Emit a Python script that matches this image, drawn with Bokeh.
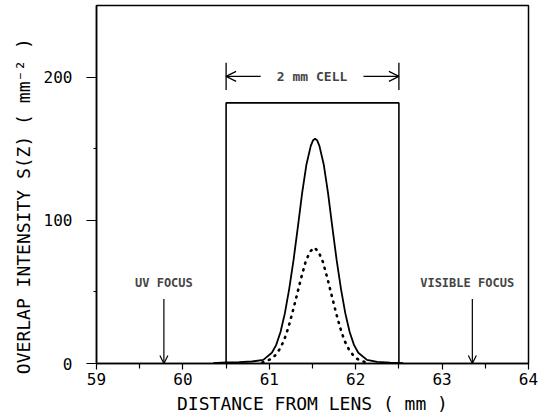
from bokeh.plotting import figure
from bokeh.models import Range1d, FixedTicker, Label, Arrow, OpenHead
from bokeh.embed import file_html
from bokeh.resources import INLINE

# ---- data ----
solid_x = [60.35, 60.50, 60.65, 60.80, 60.93, 61.03, 61.08, 61.13, 61.18, 61.23, 61.28, 61.33,
           61.38, 61.43, 61.48, 61.505, 61.53, 61.555, 61.58, 61.63, 61.68, 61.73, 61.78, 61.83,
           61.88, 61.93, 61.98, 62.03, 62.13, 62.25, 62.40, 62.55]
solid_y = [0.3, 0.7, 1.0, 1.4, 2.5, 7.5, 13, 22, 35, 52, 72, 95,
           119, 139, 152, 155.7, 157, 155.7, 152, 139, 119, 95, 72, 52,
           35, 22, 13, 7.5, 2.5, 1.2, 0.6, 0.2]

dotted_x = [60.92, 61.02, 61.07, 61.12, 61.17, 61.22, 61.27, 61.32, 61.37, 61.42, 61.47, 61.52,
            61.57, 61.62, 61.67, 61.72, 61.77, 61.82, 61.87, 61.92, 61.97, 62.02, 62.12]
dotted_y = [0.7, 3.1, 5.8, 10, 16, 25, 36, 48, 60, 71, 78, 81,
            78, 71, 60, 48, 36, 25, 16, 10, 5.8, 3.1, 0.7]

cell_start = 60.5
cell_end = 62.5
cell_height = 182
cell_label_level = 200.5
cell_arrow_inner = [60.90, 62.09]
cell_bar_range = [191, 210]

uv_focus = 59.78
visible_focus = 63.35
focus_arrow_top = 45
focus_label_level = 56

x_ticks = [59, 60, 61, 62, 63, 64]
x_minor = [59.5, 60.5, 61.5, 62.5, 63.5]
y_ticks = [0, 100, 200]
y_minor = [50, 150]

FONT = "DejaVu Sans Mono"

p = figure(width=545, height=419, output_backend="svg", toolbar_location=None,
           x_range=Range1d(59, 64), y_range=Range1d(0, 250),
           min_border_left=96, min_border_right=17, min_border_top=5, min_border_bottom=56)
p.background_fill_color = "white"
p.border_fill_color = "white"
p.grid.visible = False
p.outline_line_color = "black"
p.outline_line_width = 1.5

# axes
p.xaxis.ticker = FixedTicker(ticks=x_ticks, minor_ticks=x_minor)
p.yaxis.ticker = FixedTicker(ticks=y_ticks, minor_ticks=y_minor)
for ax in (p.xaxis, p.yaxis):
    ax.axis_line_color = "black"
    ax.axis_line_width = 1.5
    ax.major_tick_line_color = "black"
    ax.minor_tick_line_color = "black"
    ax.major_tick_line_width = 1.2
    ax.minor_tick_line_width = 1.2
    ax.major_tick_in = 0
    ax.minor_tick_in = 0
    ax.major_label_text_font = FONT
    ax.major_label_text_font_size = "16px"
    ax.major_label_text_color = "black"
    ax.axis_label_text_font = FONT
    ax.axis_label_text_font_size = "18px"
    ax.axis_label_text_font_style = "normal"
    ax.axis_label_text_color = "black"

p.xaxis.major_tick_out = 6
p.xaxis.minor_tick_out = 5
p.xaxis.major_label_standoff = 3
p.xaxis.axis_label = "DISTANCE FROM LENS ( mm )"
p.xaxis.axis_label_standoff = 5

p.yaxis.major_tick_out = 10
p.yaxis.minor_tick_out = 3
p.yaxis.major_label_standoff = 14
p.yaxis.axis_label = "OVERLAP INTENSITY S(Z)  ( mm\u207b\u00b2 )\u00a0\u00a0\u00a0"
p.yaxis.axis_label_standoff = 7

# curves
p.line(solid_x, solid_y, line_color="black", line_width=1.8)
p.line(dotted_x, dotted_y, line_color="black", line_width=2.6, line_dash="1 6", line_cap="round")

# cell box
p.line([cell_start, cell_start, cell_end, cell_end], [0, cell_height, cell_height, 0],
       line_color="black", line_width=1.6)

# cell bracket
p.segment(x0=[cell_start, cell_end], y0=[cell_bar_range[0]] * 2,
          x1=[cell_start, cell_end], y1=[cell_bar_range[1]] * 2,
          line_color="black", line_width=1.3)
p.add_layout(Arrow(end=OpenHead(size=10, line_width=1.2, line_color="black"),
                   x_start=cell_arrow_inner[0], y_start=cell_label_level,
                   x_end=cell_start, y_end=cell_label_level, line_width=1.2, line_color="black"))
p.add_layout(Arrow(end=OpenHead(size=10, line_width=1.2, line_color="black"),
                   x_start=cell_arrow_inner[1], y_start=cell_label_level,
                   x_end=cell_end, y_end=cell_label_level, line_width=1.2, line_color="black"))
p.add_layout(Label(x=(cell_arrow_inner[0] + cell_arrow_inner[1]) / 2, y=cell_label_level,
                   text="2 mm CELL", text_font=FONT, text_font_size="13px",
                   text_font_style="bold", text_align="center", text_baseline="middle"))

# focus arrows
for fx, txt, lx in [(uv_focus, "UV FOCUS", uv_focus), (visible_focus, "VISIBLE FOCUS", visible_focus - 0.06)]:
    p.add_layout(Arrow(end=OpenHead(size=8, line_width=1.2, line_color="black"),
                       x_start=fx, y_start=focus_arrow_top, x_end=fx, y_end=0,
                       line_width=1.2, line_color="black"))
    p.add_layout(Label(x=lx, y=focus_label_level, text=txt, text_font=FONT,
                       text_font_size="12px", text_font_style="bold",
                       text_align="center", text_baseline="middle"))

open("out.html", "w").write(file_html(p, INLINE))
